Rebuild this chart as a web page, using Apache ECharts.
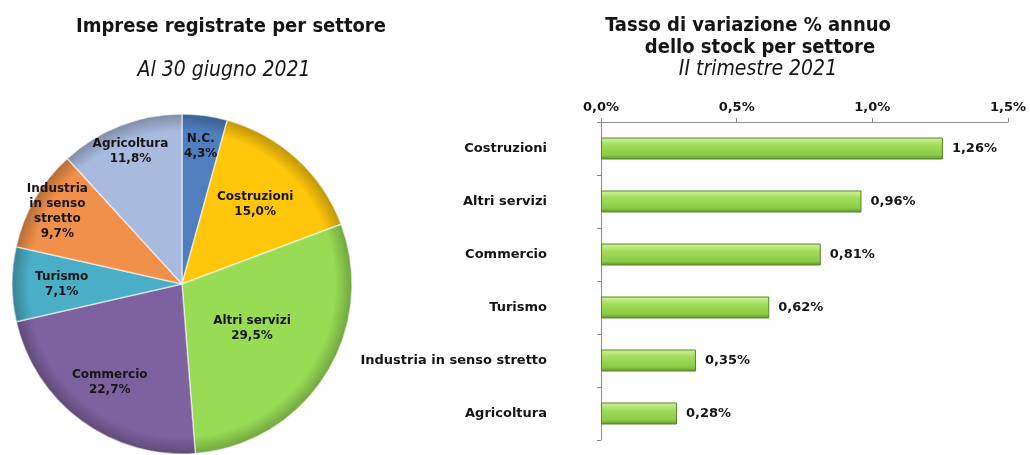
<!DOCTYPE html>
<html>
<head>
<meta charset="utf-8">
<script src="https://cdn.jsdelivr.net/npm/echarts@6/dist/echarts.min.js"></script>
<style>
    html, body { margin: 0; padding: 0; background: #fff; }
    #main { width: 1030px; height: 455px; }
</style>
</head>
<body>
<div id="main"></div>
<script>
// dati torta: imprese registrate per settore (quota %)
const pieNames = ['N.C.', 'Costruzioni', 'Altri servizi', 'Commercio', 'Turismo', 'Industria\nin senso\nstretto', 'Agricoltura'];
const pieValues = [4.3, 15.0, 29.5, 22.7, 7.1, 9.7, 11.8];
const pieColors = ['#4f7fbf', '#ffc60a', '#98dc55', '#7e62a0', '#4aaec6', '#f0904a', '#a9badf'];
// dati barre: tasso di variazione % annuo
const barCategories = ['Costruzioni', 'Altri servizi', 'Commercio', 'Turismo', 'Industria in senso stretto', 'Agricoltura'];
const barValues = [1.26, 0.96, 0.81, 0.62, 0.35, 0.28];

const TITLE_FONT = 'DejaVu Sans Condensed, DejaVu Sans, sans-serif';
const FONT = 'DejaVu Sans, Verdana, sans-serif';
const TEXT = '#151515';
const PIE_CENTER = [182, 284];
const PIE_R = 170;
// distanza etichetta dal centro (frazione del raggio)
const labelRadius = [0.8, 0.62, 0.47, 0.7, 0.69, 0.83, 0.82];

const fmt = v => v.toFixed(1).replace('.', ',') + '%';

function darken(hex, k) {
    const n = parseInt(hex.slice(1), 16);
    const r = Math.round(((n >> 16) & 255) * k), g = Math.round(((n >> 8) & 255) * k), b = Math.round((n & 255) * k);
    return 'rgb(' + r + ',' + g + ',' + b + ')';
}

const total = pieValues.reduce((a, b) => a + b, 0);
const midAngles = [];
let acc = 0;
pieValues.forEach(v => {
    midAngles.push((acc + v / 2) / total * Math.PI * 2);
    acc += v;
});

const titleStyle = { fontFamily: TITLE_FONT, fontSize: 20, fontWeight: 'bold', color: TEXT };
const subStyle = { fontFamily: TITLE_FONT, fontSize: 21, fontStyle: 'italic', fontWeight: 'normal', color: TEXT };

const myChart = echarts.init(document.getElementById('main'));

const option = {
    animation: false,
    title: [
        { text: 'Imprese registrate per settore', left: 226, top: 12, textAlign: 'center', textStyle: titleStyle },
        { text: 'Al 30 giugno 2021', left: 219, top: 55, textAlign: 'center', textStyle: subStyle },
        { text: 'Tasso di variazione % annuo', left: 743, top: 11, textAlign: 'center', textStyle: titleStyle },
        { text: 'dello stock per settore', left: 755, top: 33, textAlign: 'center', textStyle: titleStyle },
        { text: 'II trimestre 2021', left: 753, top: 54, textAlign: 'center', textStyle: subStyle }
    ],
    grid: { left: 601, right: 22, top: 122, bottom: 15 },
    xAxis: {
        type: 'value',
        position: 'top',
        min: 0,
        max: 1.5,
        interval: 0.5,
        axisLine: { show: true, lineStyle: { color: '#8c8c8c' } },
        axisTick: { show: true, length: 4, lineStyle: { color: '#8c8c8c' } },
        splitLine: { show: false },
        axisLabel: {
            fontFamily: FONT, fontSize: 13, fontWeight: 'bold', color: TEXT, margin: 8,
            formatter: v => fmt(v)
        }
    },
    yAxis: {
        type: 'category',
        inverse: true,
        data: barCategories,
        axisLine: { show: true, lineStyle: { color: '#8c8c8c' } },
        axisTick: { show: true, length: 4, lineStyle: { color: '#8c8c8c' } },
        axisLabel: { fontFamily: FONT, fontSize: 13, fontWeight: 'bold', color: TEXT, margin: 54 }
    },
    series: [
        {
            type: 'pie',
            center: PIE_CENTER,
            radius: [0, PIE_R],
            startAngle: 90,
            clockwise: true,
            silent: true,
            data: pieNames.map((n, i) => ({
                name: n,
                value: pieValues[i],
                itemStyle: {
                    color: {
                        type: 'radial', global: true,
                        x: PIE_CENTER[0], y: PIE_CENTER[1], r: PIE_R,
                        colorStops: [
                            { offset: 0, color: pieColors[i] },
                            { offset: 0.9, color: pieColors[i] },
                            { offset: 1, color: darken(pieColors[i], 0.75) }
                        ]
                    },
                    borderColor: 'rgba(255,255,255,0.55)',
                    borderWidth: 1.5
                }
            })),
            label: {
                position: 'inside',
                fontFamily: FONT,
                fontSize: 12,
                fontWeight: 'bold',
                color: TEXT,
                lineHeight: 15,
                align: 'center',
                formatter: p => p.name + '\n' + fmt(p.value)
            },
            labelLine: { show: false },
            labelLayout: params => {
                const i = params.dataIndex;
                const d = (labelRadius[i] - 0.5) * PIE_R;
                return { dx: d * Math.sin(midAngles[i]), dy: -d * Math.cos(midAngles[i]) };
            }
        },
        {
            type: 'bar',
            data: barValues,
            barWidth: 22,
            itemStyle: {
                color: {
                    type: 'linear', x: 0, y: 0, x2: 0, y2: 1,
                    colorStops: [
                        { offset: 0, color: '#d2f59c' },
                        { offset: 0.35, color: '#9fdc5a' },
                        { offset: 0.8, color: '#8ccc48' },
                        { offset: 1, color: '#5f8f2c' }
                    ]
                },
                borderColor: '#5a8428',
                borderWidth: 1
            },
            label: {
                show: true,
                position: 'right',
                distance: 9,
                fontFamily: FONT,
                fontSize: 13,
                fontWeight: 'bold',
                color: TEXT,
                formatter: p => p.value.toFixed(2).replace('.', ',') + '%'
            }
        }
    ]
};

myChart.setOption(option);
</script>
</body>
</html>
